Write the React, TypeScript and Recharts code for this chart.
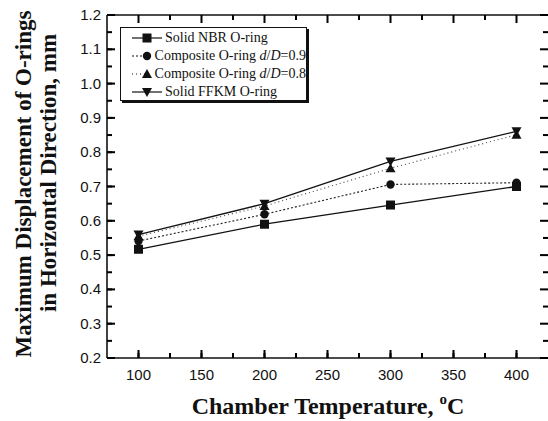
import { LineChart, Line, XAxis, YAxis, ReferenceLine } from 'recharts'

const TEMPS = [100, 200, 300, 400]
const NBR = [0.517, 0.59, 0.646, 0.7]
const COMP_09 = [0.541, 0.619, 0.706, 0.711]
const COMP_08 = [0.555, 0.643, 0.753, 0.851]
const FFKM = [0.56, 0.65, 0.773, 0.861]

const X_TICKS = [100, 125, 150, 175, 200, 225, 250, 275, 300, 325, 350, 375, 400]
const Y_TICKS = [0.2, 0.25, 0.3, 0.35, 0.4, 0.45, 0.5, 0.55, 0.6, 0.65, 0.7, 0.75, 0.8, 0.85, 0.9, 0.95, 1.0, 1.05, 1.1, 1.15, 1.2]

const data = TEMPS.map((t, i) => ({ t, nbr: NBR[i], c09: COMP_09[i], c08: COMP_08[i], ffkm: FFKM[i] }))

const INK = '#111'
const TOP = 15
const BOTTOM = 358
const LEFT = 107
const RIGHT = 548
const X_DOMAIN = [75, 425]
const Y_DOMAIN = [0.2, 1.2]
const tickFont = '"Liberation Sans", Arial, sans-serif'
const serif = '"Liberation Serif", "Times New Roman", serif'

const isMajorX = (v: number) => v % 50 === 0
const isMajorY = (v: number) => Math.round(v * 100) % 10 === 0

// bottom label + extra length for major ticks + mirrored top tick
function BottomTick(props: any) {
  const { x, payload } = props
  const major = isMajorX(payload.value)
  const h = major ? 8 : 5
  return (
    <g>
      {major && <rect x={x - 1} y={BOTTOM - h} width={2} height={h} fill="#000" />}
      <rect x={x - 1} y={TOP} width={2} height={h} fill="#000" />
      {major && (
        <text x={x} y={BOTTOM + 22} textAnchor="middle" fontFamily={tickFont} fontSize={15} fill={INK}>
          {payload.value}
        </text>
      )}
    </g>
  )
}

// left label + extra length for major ticks + mirrored right tick
function LeftTick(props: any) {
  const { y, payload } = props
  const major = isMajorY(payload.value)
  const w = major ? 8 : 5
  return (
    <g>
      {major && <rect x={LEFT} y={y - 1} width={w} height={2} fill="#000" />}
      <rect x={RIGHT - w} y={y - 1} width={w} height={2} fill="#000" />
      {major && (
        <text x={LEFT - 6} y={y + 5} textAnchor="end" fontFamily={tickFont} fontSize={15} fill={INK}>
          {payload.value.toFixed(1)}
        </text>
      )}
    </g>
  )
}

const square = (p: any) => <rect key={p.index} x={p.cx - 4.5} y={p.cy - 4.5} width={9} height={9} fill={INK} />
const circle = (p: any) => <circle key={p.index} cx={p.cx} cy={p.cy} r={4.2} fill={INK} />
const triUp = (p: any) => (
  <path key={p.index} d={`M${p.cx},${p.cy - 5}L${p.cx + 5},${p.cy + 4}L${p.cx - 5},${p.cy + 4}Z`} fill={INK} />
)
const triDown = (p: any) => (
  <path key={p.index} d={`M${p.cx},${p.cy + 5}L${p.cx + 5},${p.cy - 4}L${p.cx - 5},${p.cy - 4}Z`} fill={INK} />
)

const LEGEND = [
  { label: 'Solid NBR O-ring', dash: undefined, marker: 'square' },
  { label: 'Composite O-ring ', ratio: '0.9', dash: '2 2', marker: 'circle' },
  { label: 'Composite O-ring ', ratio: '0.8', dash: '1 3', marker: 'up' },
  { label: 'Solid FFKM O-ring', dash: undefined, marker: 'down' },
]

function LegendMarker({ marker, dash }: { marker: string; dash?: string }) {
  const p = { cx: 15, cy: 7, index: 0 }
  return (
    <svg width={30} height={14} style={{ display: 'block' }}>
      <line x1={0} x2={30} y1={7} y2={7} stroke={INK} strokeWidth={1.2} strokeDasharray={dash} />
      {marker === 'square' && square(p)}
      {marker === 'circle' && circle(p)}
      {marker === 'up' && triUp(p)}
      {marker === 'down' && triDown(p)}
    </svg>
  )
}

export default function App() {
  return (
    <div style={{ position: 'fixed', left: 0, top: 0, width: 548, height: 421, background: '#fff' }}>
      <LineChart width={548} height={421} data={data} margin={{ top: TOP, right: 0, bottom: 0, left: 0 }}>
        <XAxis
          dataKey="t"
          type="number"
          domain={X_DOMAIN}
          ticks={X_TICKS}
          interval={0}
          height={421 - BOTTOM}
          tickSize={-5}
          tickLine={{ stroke: '#000', strokeWidth: 2 }}
          axisLine={{ stroke: INK, strokeWidth: 1.6 }}
          tick={BottomTick}
        />
        <YAxis
          type="number"
          domain={Y_DOMAIN}
          ticks={Y_TICKS}
          interval={0}
          width={LEFT}
          tickSize={-5}
          tickLine={{ stroke: '#000', strokeWidth: 2 }}
          axisLine={{ stroke: INK, strokeWidth: 1.6 }}
          tick={LeftTick}
        />
        <ReferenceLine y={Y_DOMAIN[1]} stroke={INK} strokeWidth={1.6} ifOverflow="visible" />
        <Line dataKey="nbr" stroke={INK} strokeWidth={1.3} dot={square} isAnimationActive={false} />
        <Line dataKey="c09" stroke="#222" strokeWidth={1.1} strokeDasharray="2 2" dot={circle} isAnimationActive={false} />
        <Line dataKey="c08" stroke="#444" strokeWidth={1.1} strokeDasharray="1 3" dot={triUp} isAnimationActive={false} />
        <Line dataKey="ffkm" stroke={INK} strokeWidth={1.3} dot={triDown} isAnimationActive={false} />
      </LineChart>

      {/* axis titles */}
      <svg width={548} height={421} style={{ position: 'absolute', left: 0, top: 0, pointerEvents: 'none' }}>
        <g fontFamily={serif} fontWeight="bold" fill={INK}>
          <text transform="translate(31,184) rotate(-90)" textAnchor="middle" fontSize={23}>
            Maximum Displacement of O-rings
          </text>
          <text transform="translate(56,173) rotate(-90)" textAnchor="middle" fontSize={23}>
            in Horizontal Direction, mm
          </text>
          <text x={328} y={414} textAnchor="middle" fontSize={24}>
            Chamber Temperature,{' '}
            <tspan dy={-10} fontSize={15}>o</tspan>
            <tspan dy={10}>C</tspan>
          </text>
        </g>
      </svg>

      <div
        style={{
          position: 'absolute',
          left: 120,
          top: 27,
          width: 187,
          height: 74,
          border: `1px solid ${INK}`,
          boxShadow: `2px 2px 0 ${INK}`,
          background: '#fff',
          fontFamily: serif,
          fontSize: 14,
          color: INK,
          boxSizing: 'border-box',
          padding: '1px 0 0 11px',
        }}
      >
        {LEGEND.map((l) => (
          <div key={l.label + (l.ratio ?? '')} style={{ display: 'flex', alignItems: 'center', height: 18 }}>
            <LegendMarker marker={l.marker} dash={l.dash} />
            <span style={{ marginLeft: 3, whiteSpace: 'nowrap' }}>
              {l.label}
              {l.ratio && (
                <>
                  <i>d</i>/<i>D</i>={l.ratio}
                </>
              )}
            </span>
          </div>
        ))}
      </div>
    </div>
  )
}
